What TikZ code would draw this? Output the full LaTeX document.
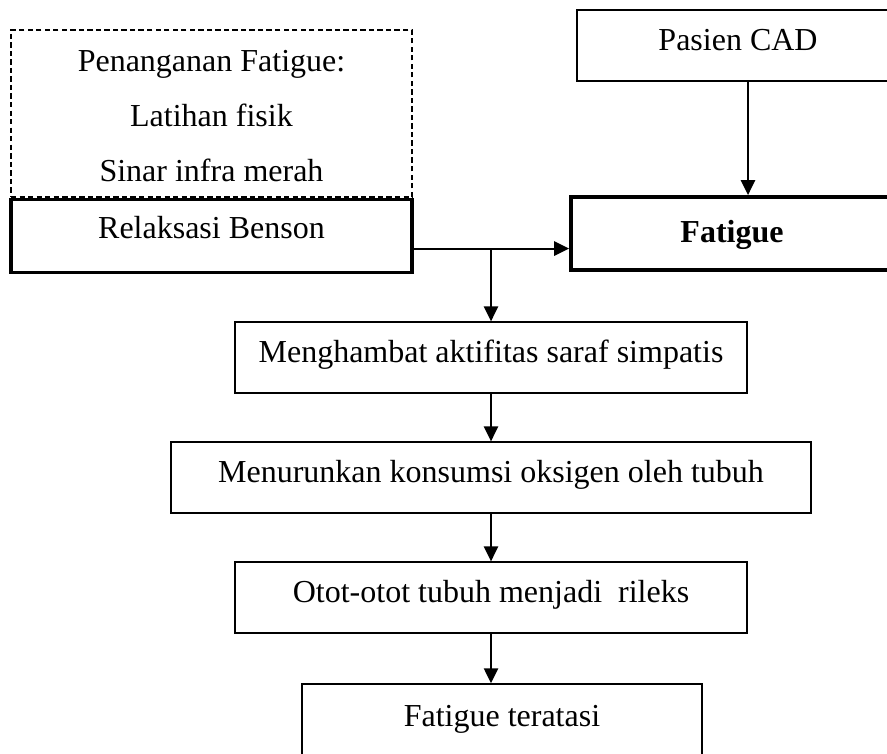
\documentclass[tikz,border=0pt]{standalone}
\usepackage{fontspec}
\setmainfont{Liberation Serif}
\usepackage{tikz}
\usetikzlibrary{arrows.meta, positioning, calc}

\begin{document}
\begin{tikzpicture}[
  x=0.375pt, y=-0.375pt,
  box/.style={rectangle, draw, line width=0.5pt, minimum height=26.6pt, inner sep=0pt, text height=8pt, text depth=4.5pt, align=center, font=\fontsize{12}{14}\selectfont},
  thickbox/.style={box, line width=1.4pt, minimum height=27.4pt},
  dashbox/.style={rectangle, draw, line width=0.5pt, dash pattern=on 2pt off 1.2pt, inner sep=0pt, align=center, font=\fontsize{12}{20.6}\selectfont},
  arr/.style={-{Triangle[length=5.6pt, width=5.3pt]}, line width=0.75pt},
]
\useasboundingbox (0,0) rectangle (887,754);
\clip (0,0) rectangle (887,754);

\node[dashbox, minimum width=150.4pt, minimum height=62.6pt] (penanganan) at (211.5,113.5) {\rule{0pt}{10pt}Penanganan Fatigue:\\Latihan fisik\\Sinar infra merah};
\node[thickbox, minimum width=150.4pt, text depth=6pt, below=0pt of penanganan] (relaksasi) {Relaksasi Benson};
\node[box, minimum width=120.75pt] (pasien) at (738,45.5) {Pasien CAD};
\node[thickbox, minimum width=120.75pt, text depth=1.5pt, font=\fontsize{12}{14}\selectfont\bfseries] (fatigue) at (732,233.5) {Fatigue};
\node[box, minimum width=192pt] (hambat) at (491,357.5) {Menghambat aktifitas saraf simpatis};
\node[box, minimum width=240pt, below=17.9pt of hambat] (turun) {Menurunkan konsumsi oksigen oleh tubuh};
\node[box, minimum width=192pt, below=17.9pt of turun] (otot) {Otot-otot tubuh menjadi~ rileks};
\node[box, minimum width=150pt, minimum height=30pt, text depth=6pt, below=18.6pt of otot, xshift=4.1pt] (teratasi) {Fatigue teratasi};

% Arrows
\coordinate (cabang) at ([yshift=-4.7pt]relaksasi.east -| hambat.north);
\draw[arr] ([xshift=3.75pt]pasien.south) -- ([xshift=3.75pt]pasien.south |- fatigue.north);
\draw[arr] ([yshift=-4.7pt]relaksasi.east) -- ([yshift=-4.7pt]relaksasi.east -| fatigue.west);
\draw[arr] (cabang) -- (hambat);
\draw[arr] (hambat) -- (turun);
\draw[arr] (turun) -- (otot);
\draw[arr] (otot) -- (otot.south |- teratasi.north);
\end{tikzpicture}
\end{document}
